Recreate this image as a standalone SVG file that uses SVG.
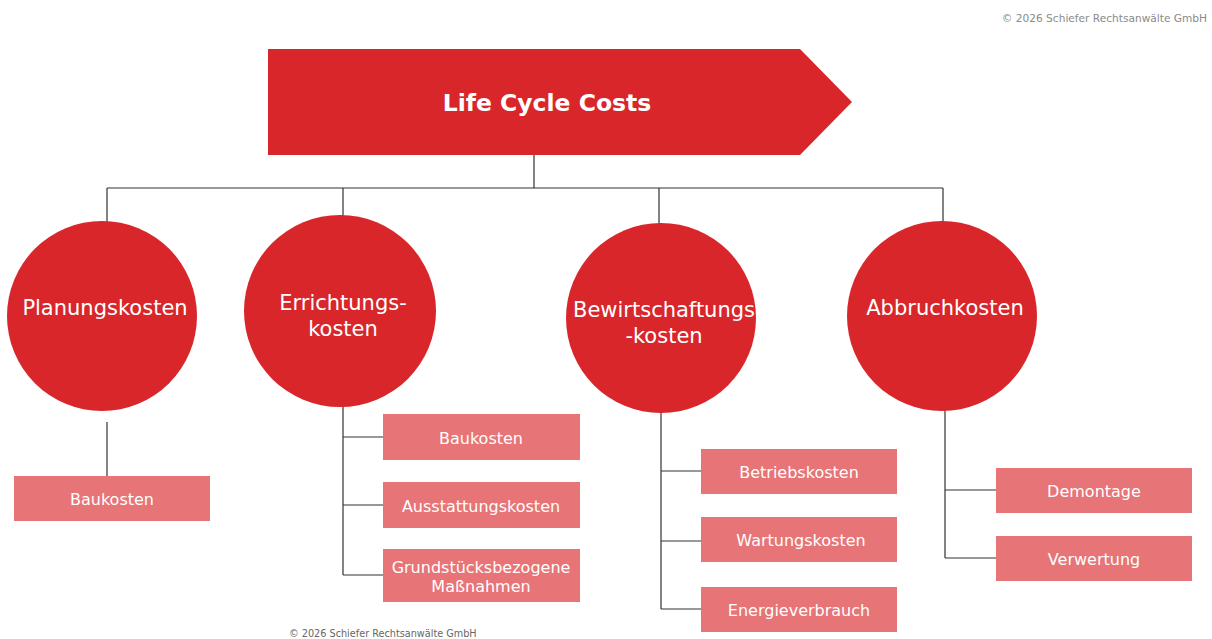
<svg xmlns="http://www.w3.org/2000/svg" width="1212" height="639" viewBox="0 0 1212 639">
<style>
text{font-family:"DejaVu Sans","Noto Sans",sans-serif;}
.circ{fill:#d8262b;}
.box{fill:#e77476;}
.ct{fill:#ffffff;font-size:21px;text-anchor:middle;}
.bt{fill:#ffffff;font-size:16px;text-anchor:middle;}
.ln{stroke:#333;stroke-width:1.2;fill:none;}
.copy{fill:#8a8a8a;font-size:10.6px;}
</style>
<rect width="1212" height="639" fill="#ffffff"/>
<text class="copy" x="1207" y="22" text-anchor="end">© 2026 Schiefer  Rechtsanwälte  GmbH</text>
<g id="connectors">
<path class="ln" d="M534 155V188M107 188H943M107 188V222M343 188V217M659 188V224M943 188V222"/>
<path class="ln" d="M107 422V476"/>
<path class="ln" d="M343 406V575M343 437H383M343 505H383M343 575H383"/>
<path class="ln" d="M661 412V609M661 471H701M661 541H701M661 609H701"/>
<path class="ln" d="M945 410V558M945 490H996M945 558H996"/>
</g>
<g id="lcc">
<polygon points="268,49 800,49 852,102 800,155 268,155" fill="#d8262b"/>
<text x="547" y="111" fill="#ffffff" font-size="23.5" font-weight="bold" text-anchor="middle">Life Cycle Costs</text>
</g>
<g id="planungskosten">
<circle class="circ" cx="102" cy="316" r="95"/>
<text class="ct" x="105" y="315">Planungskosten</text>
</g>
<g id="errichtungskosten">
<circle class="circ" cx="340" cy="311" r="96"/>
<text class="ct" x="343" y="310">Errichtungs-</text>
<text class="ct" x="343" y="336">kosten</text>
</g>
<g id="bewirtschaftungskosten">
<circle class="circ" cx="661" cy="318" r="95"/>
<text class="ct" x="664" y="317">Bewirtschaftungs</text>
<text class="ct" x="664" y="343">-kosten</text>
</g>
<g id="abbruchkosten">
<circle class="circ" cx="942" cy="316" r="95"/>
<text class="ct" x="945" y="315">Abbruchkosten</text>
</g>
<g id="p-baukosten">
<rect class="box" x="14" y="476" width="196" height="45"/>
<text class="bt" x="112" y="505">Baukosten</text>
</g>
<g id="e-baukosten">
<rect class="box" x="383" y="414" width="197" height="46"/>
<text class="bt" x="481" y="444">Baukosten</text>
</g>
<g id="e-ausstattung">
<rect class="box" x="383" y="482" width="197" height="46"/>
<text class="bt" x="481" y="512">Ausstattungskosten</text>
</g>
<g id="e-grundstueck">
<rect class="box" x="383" y="549" width="197" height="53"/>
<text class="bt" x="481" y="573">Grundstücksbezogene</text>
<text class="bt" x="481" y="592">Maßnahmen</text>
</g>
<g id="b-betrieb">
<rect class="box" x="701" y="449" width="196" height="45"/>
<text class="bt" x="799" y="478">Betriebskosten</text>
</g>
<g id="b-wartung">
<rect class="box" x="701" y="517" width="196" height="45"/>
<text class="bt" x="801" y="546">Wartungskosten</text>
</g>
<g id="b-energie">
<rect class="box" x="701" y="587" width="196" height="45"/>
<text class="bt" x="799" y="616">Energieverbrauch</text>
</g>
<g id="a-demontage">
<rect class="box" x="996" y="468" width="196" height="45"/>
<text class="bt" x="1094" y="497">Demontage</text>
</g>
<g id="a-verwertung">
<rect class="box" x="996" y="536" width="196" height="45"/>
<text class="bt" x="1094" y="565">Verwertung</text>
</g>
<text x="289" y="637" fill="#666666" font-size="9.7">© 2026 Schiefer Rechtsanwälte GmbH</text>
</svg>
